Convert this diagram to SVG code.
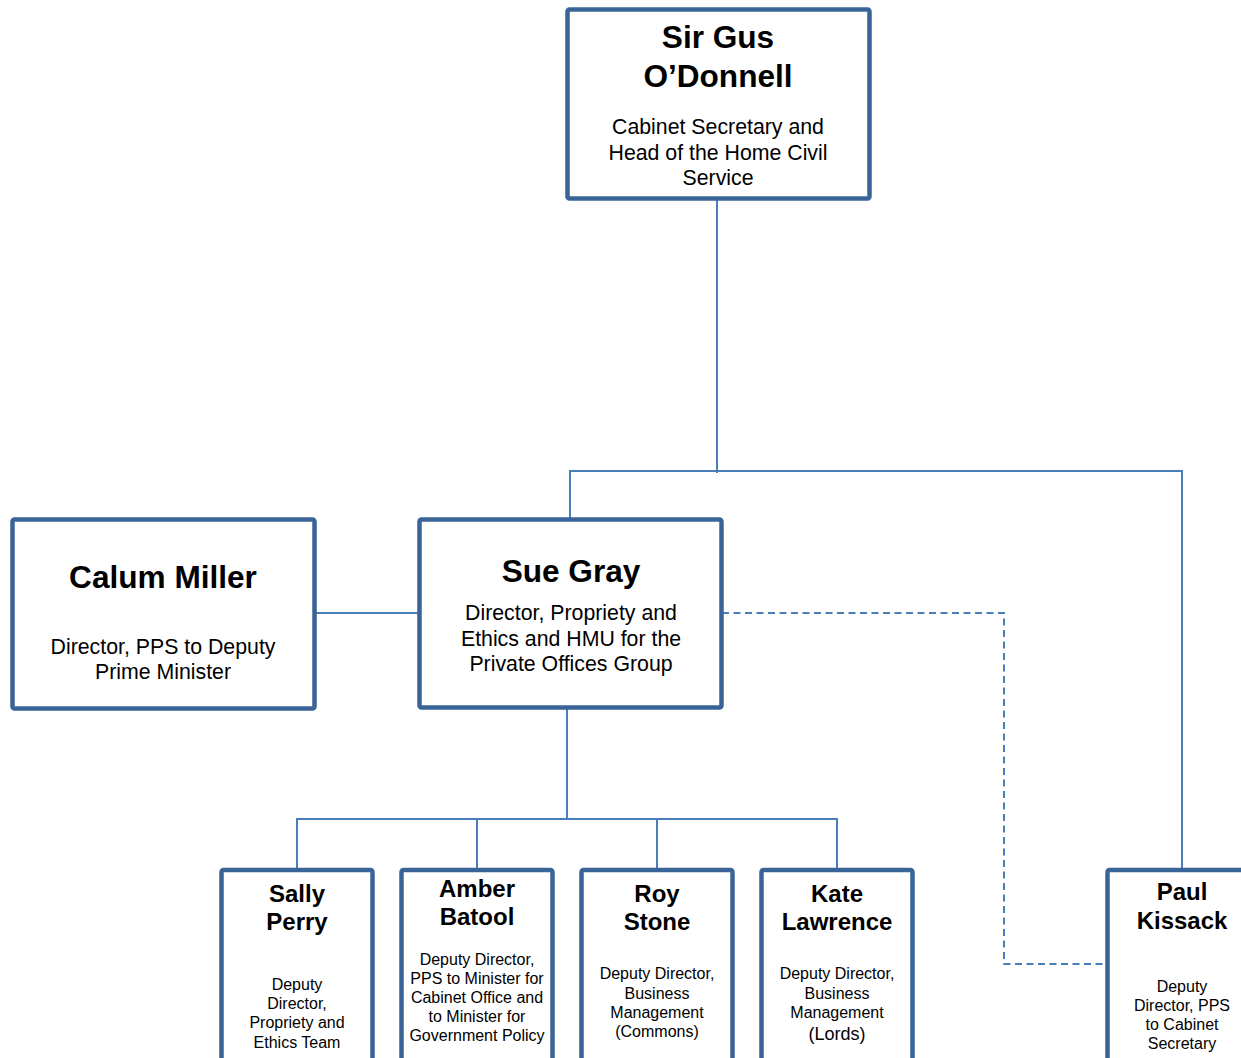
<svg xmlns="http://www.w3.org/2000/svg" width="1241" height="1058" viewBox="0 0 1241 1058">
<style>
.box{fill:#fff;stroke:#3A6497;stroke-width:4.5}
.ln{fill:none;stroke:#4A7EBB;stroke-width:2}
.dash{fill:none;stroke:#4A7EBB;stroke-width:2;stroke-dasharray:7 4.5}
text{font-family:"Liberation Sans",Arial,sans-serif;fill:#000;text-anchor:middle}
.n1{font-size:31.6px;font-weight:bold}
.s1{font-size:21.3px}
.n2{font-size:24px;font-weight:bold}
.s2{font-size:16px}
</style>
<rect width="1241" height="1058" fill="#fff"/>
<g id="connectors">
<path class="ln" d="M717 199V473"/>
<path class="ln" d="M570 519V471H1182V869"/>
<path class="ln" d="M316 613H419"/>
<path class="dash" d="M722 613H1004V964H1107"/>
<path class="ln" d="M567 709V819"/>
<path class="ln" d="M297 869V819H837V869"/>
<path class="ln" d="M477 819V869"/>
<path class="ln" d="M657 819V869"/>
</g>
<g id="gus">
<rect class="box" x="567.5" y="9.5" width="302" height="189" rx="2"/>
<text class="n1" x="718" y="48">Sir Gus</text>
<text class="n1" x="718" y="87">O’Donnell</text>
<text class="s1" x="718" y="134">Cabinet Secretary and</text>
<text class="s1" x="718" y="160">Head of the Home Civil</text>
<text class="s1" x="718" y="185">Service</text>
</g>
<g id="calum">
<rect class="box" x="12.5" y="519.5" width="302" height="189" rx="2"/>
<text class="n1" x="163" y="588">Calum Miller</text>
<text class="s1" x="163" y="654">Director, PPS to Deputy</text>
<text class="s1" x="163" y="679">Prime Minister</text>
</g>
<g id="sue">
<rect class="box" x="419.5" y="519.5" width="302" height="188" rx="2"/>
<text class="n1" x="571" y="582">Sue Gray</text>
<text class="s1" x="571" y="620">Director, Propriety and</text>
<text class="s1" x="571" y="646">Ethics and HMU for the</text>
<text class="s1" x="571" y="671">Private Offices Group</text>
</g>
<g id="sally">
<rect class="box" x="221.5" y="870" width="151" height="210" rx="2"/>
<text class="n2" x="297" y="902">Sally</text>
<text class="n2" x="297" y="930">Perry</text>
<text class="s2" x="297" y="990">Deputy</text>
<text class="s2" x="297" y="1009">Director,</text>
<text class="s2" x="297" y="1028">Propriety and</text>
<text class="s2" x="297" y="1048">Ethics Team</text>
</g>
<g id="amber">
<rect class="box" x="401.5" y="870" width="151" height="210" rx="2"/>
<text class="n2" x="477" y="897">Amber</text>
<text class="n2" x="477" y="925">Batool</text>
<text class="s2" x="477" y="965">Deputy Director,</text>
<text class="s2" x="477" y="984">PPS to Minister for</text>
<text class="s2" x="477" y="1003">Cabinet Office and</text>
<text class="s2" x="477" y="1022">to Minister for</text>
<text class="s2" x="477" y="1041">Government Policy</text>
</g>
<g id="roy">
<rect class="box" x="581.5" y="870" width="151" height="210" rx="2"/>
<text class="n2" x="657" y="902">Roy</text>
<text class="n2" x="657" y="930">Stone</text>
<text class="s2" x="657" y="979">Deputy Director,</text>
<text class="s2" x="657" y="999">Business</text>
<text class="s2" x="657" y="1018">Management</text>
<text class="s2" x="657" y="1037">(Commons)</text>
</g>
<g id="kate">
<rect class="box" x="761.5" y="870" width="151" height="210" rx="2"/>
<text class="n2" x="837" y="902">Kate</text>
<text class="n2" x="837" y="930">Lawrence</text>
<text class="s2" x="837" y="979">Deputy Director,</text>
<text class="s2" x="837" y="999">Business</text>
<text class="s2" x="837" y="1018">Management</text>
<text class="s2" x="837" y="1040" style="font-size:18px">(Lords)</text>
</g>
<g id="paul">
<rect class="box" x="1107.5" y="870" width="151" height="210" rx="2"/>
<text class="n2" x="1182" y="900">Paul</text>
<text class="n2" x="1182" y="929">Kissack</text>
<text class="s2" x="1182" y="992">Deputy</text>
<text class="s2" x="1182" y="1011">Director, PPS</text>
<text class="s2" x="1182" y="1030">to Cabinet</text>
<text class="s2" x="1182" y="1049">Secretary</text>
</g>
</svg>
